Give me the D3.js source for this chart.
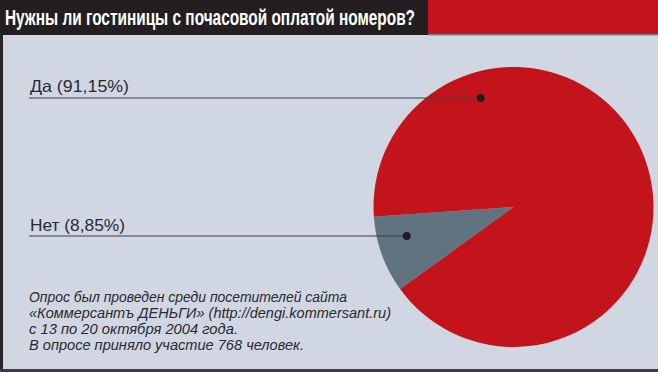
<!DOCTYPE html>
<html><head><meta charset="utf-8">
<script src="https://cdn.jsdelivr.net/npm/d3@7"></script>
<style>html,body{margin:0;padding:0;background:#d0d7e3;}svg{display:block;}</style>
</head><body>
<script>
const title = "Нужны ли гостиницы с почасовой оплатой номеров?";
const categories = ["Нет", "Да"];
const values = [8.85, 91.15];
const labels = ["Нет (8,85%)", "Да (91,15%)"];
const colors = ["#5f7480", "#c4141b"];
const notes = [
  "Опрос был проведен среди посетителей сайта",
  "«Коммерсантъ ДЕНЬГИ» (http://dengi.kommersant.ru)",
  "с 13 по 20 октября 2004 года.",
  "В опросе приняло участие 768 человек."
];

const W = 658, H = 372;
const svg = d3.select("body").append("svg").attr("width", W).attr("height", H);

// panel
svg.append("rect").attr("x",0).attr("y",0).attr("width",W).attr("height",H).attr("fill","#d0d7e3");
svg.append("rect").attr("x",0).attr("y",0).attr("width",3).attr("height",H).attr("fill","#2a2628");
svg.append("rect").attr("x",0).attr("y",369).attr("width",W).attr("height",3).attr("fill","#3a3a40");
// header
svg.append("rect").attr("x",0).attr("y",0).attr("width",W).attr("height",35).attr("fill","#231f20");
svg.append("rect").attr("x",428).attr("y",0).attr("width",W-428).attr("height",34).attr("fill","#c4141b");
svg.append("rect").attr("x",428).attr("y",34).attr("width",W-428).attr("height",1.5).attr("fill","#7d8088");
svg.append("text").attr("x",5).attr("y",25).attr("fill","#fff")
  .attr("font-family","'Liberation Sans Narrow','Arial Narrow','Liberation Sans',Arial,sans-serif")
  .attr("font-weight","bold").attr("font-size",22)
  .attr("textLength",410).attr("lengthAdjust","spacingAndGlyphs")
  .text(title);

// pie
const cx = 513.5, cy = 207, R = 140;
const g = svg.append("g").attr("transform",`translate(${cx},${cy})`);
const startDeg = 234.1;
const pie = d3.pie().sort(null).value(d=>d)
  .startAngle(startDeg*Math.PI/180).endAngle(startDeg*Math.PI/180 + 2*Math.PI);
const arcs = pie(values);
const arc = d3.arc().innerRadius(0).outerRadius(R);
g.selectAll("path").data(arcs).enter().append("path")
  .attr("d", arc).attr("fill",(d,i)=>colors[i]);

// leader lines and dots
const dots = [{x:406.7,y:236},{x:480.7,y:98}];
const labelY = [230.5, 92];
const lineY = [236, 98];
const labelW = [95, 99];
labels.forEach((t,i)=>{
  svg.append("line").attr("x1",29).attr("x2",dots[i].x).attr("y1",lineY[i]).attr("y2",lineY[i])
    .attr("stroke","#3d3f44").attr("stroke-width",1.2);
  svg.append("circle").attr("cx",dots[i].x).attr("cy",dots[i].y).attr("r",4).attr("fill","#1e1e22");
  svg.append("text").attr("x",30).attr("y",labelY[i]).attr("fill","#2a2a2e")
    .attr("font-family","'Liberation Sans',Arial,sans-serif").attr("font-size",16.5)
    .attr("textLength",labelW[i]).attr("lengthAdjust","spacingAndGlyphs")
    .text(t);
});

// notes
const noteW = [318, 362, 209, 275];
notes.forEach((t,i)=>{
  svg.append("text").attr("x",29).attr("y",302+i*16).attr("fill","#2a2a2e")
    .attr("font-family","'Liberation Sans',Arial,sans-serif").attr("font-style","italic").attr("font-size",14)
    .attr("textLength",noteW[i]).attr("lengthAdjust","spacingAndGlyphs")
    .text(t);
});
</script>
</body></html>
